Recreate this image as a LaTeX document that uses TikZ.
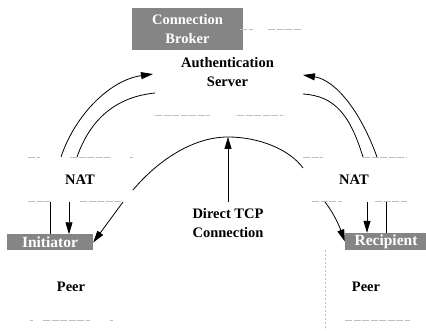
\documentclass[tikz,border=0pt]{standalone}
\usepackage{fontspec}
\setmainfont{Liberation Serif}
\usetikzlibrary{arrows.meta}

\begin{document}
\begin{tikzpicture}[x=1pt,y=-1pt,
    lbl/.style={font=\bfseries\fontsize{14.5}{19}\selectfont,align=center,inner sep=0pt},
    greybox/.style={lbl,fill=black!48,text=white},
    arr/.style={-{Triangle[length=12pt,width=7pt]},line width=0.8pt},
    wire/.style={line width=0.8pt},
    faint/.style={black!25,line width=0.5pt,dash pattern=on 7pt off 1.5pt}]
\useasboundingbox (0,0) rectangle (426,331);

% boxes and labels
\node[greybox,minimum width=111pt,minimum height=42pt] (broker) at (187.5,29) {Connection\\Broker};
\node[lbl] (auth) at (227.5,72) {Authentication\\Server};
\node[lbl] (natL) at (80,180) {NAT};
\node[lbl] (natR) at (354,180) {NAT};
\node[lbl] (tcp) at (228,223) {Direct TCP\\Connection};
\node[greybox,minimum width=86pt,minimum height=16pt,font=\bfseries\fontsize{15.5}{19}\selectfont] (init) at (50,242.5) {Initiator};
\node[greybox,minimum width=82pt,minimum height=17pt,font=\bfseries\fontsize{15.5}{19}\selectfont] (recip) at (386,241.5) {Recipient};
\node[lbl] (peerL) at (71,287) {Peer};
\node[lbl] (peerR) at (366,287) {Peer};

% end points
\coordinate (lo) at (61,157);
\coordinate (li) at (77,157);
\coordinate (ro) at (377,157);
\coordinate (ri) at (363,157);
\coordinate (lot) at (153,74);
\coordinate (lit) at (155,93);
\coordinate (rot) at (303,75);
\coordinate (rit) at (303,94);
\coordinate (archL) at (133,190);
\coordinate (apex) at (228,137);
\coordinate (archR) at (303,168);
\coordinate (lwire) at (50,202);
\coordinate (ldown) at (69,202);
\coordinate (ldiag) at (123,202);
\coordinate (rdiag) at (325,202);
\coordinate (rdown) at (367,202);
\coordinate (rwire) at (386,202);

% to the server
\draw[arr] (lo) .. controls (75,115) and (110,80) .. (lot);
\draw[wire] (li) .. controls (90,120) and (115,97) .. (lit);
\draw[arr] (ro) .. controls (360,110) and (335,80) .. (rot);
\draw[wire] (ri) .. controls (350,115) and (335,96) .. (rit);

% direct connection
\draw[wire] (archL) .. controls (160,158) and (195,137) .. (apex) .. controls (260,137) and (290,150) .. (archR);
\draw[arr] (tcp.north |- lwire) -- (apex);

% through the NATs
\draw[wire] (lwire) -- (lwire |- init.north);
\draw[arr] (ldown) -- (ldown |- init.north);
\draw[arr] (ldiag) -- (init.east);
\draw[arr] (rdiag) .. controls (335,215) and (340,228) .. (recip.west);
\draw[arr] (rdown) -- (rdown |- recip.north);
\draw[wire] (rwire) -- (rwire |- recip.north);

% faint box edges
\draw[faint] (240,29) -- (253,29) (268,29) -- (302,29);
\draw[faint] (155,115) -- (210,115) (237,115) -- (283,115);
\draw[faint] (28,157) -- (40,157) (70,157) -- (110,157) (130,157) -- (133,157);
\draw[faint] (303,157) -- (323,157) (363,157) -- (407,157);
\draw[faint] (28,201) -- (50,201) (80,201) -- (122,201);
\draw[faint] (312,201) -- (342,201) (375,201) -- (407,201);
\draw[faint] (30,320) -- (33,320) (43,320) -- (90,320) (110,320) -- (113,320);
\draw[faint] (345,320) -- (410,320);
\draw[faint,dash pattern=on 2pt off 2pt] (325,250) -- (325,330);
\end{tikzpicture}
\end{document}
